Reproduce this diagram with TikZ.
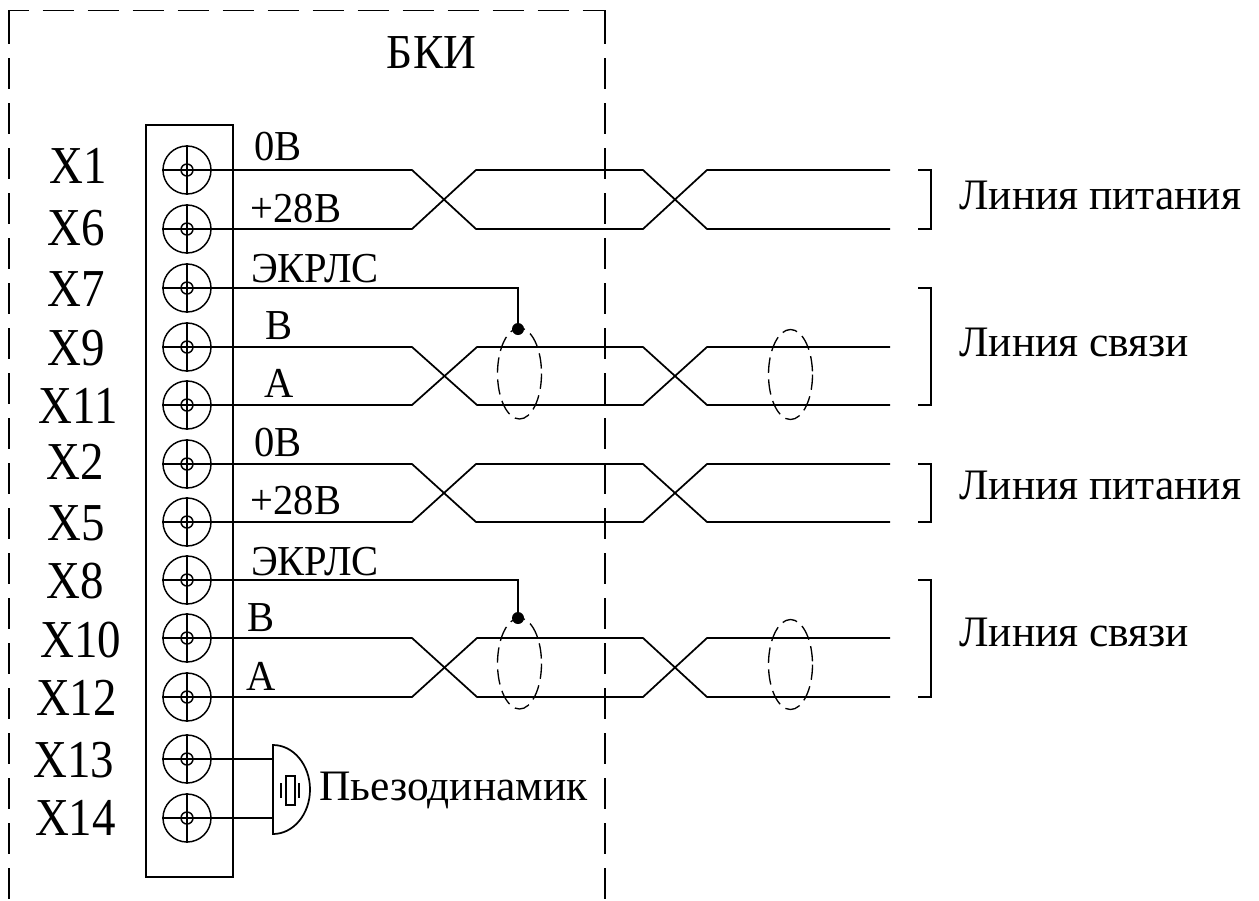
\documentclass[tikz,border=0pt]{standalone}
\usepackage{fontspec}
\setmainfont{Liberation Serif}
\newfontfamily\pinfont[FakeStretch=0.88]{Liberation Serif}
\newfontfamily\labfont[FakeStretch=0.95]{Liberation Serif}
\newfontfamily\bkifont[FakeStretch=0.93]{Liberation Serif}
\tikzset{
  wire/.style={line width=1.3pt,line join=miter,black},
  boxdash/.style={line width=1.3pt},
  shielddash/.style={line width=1.0pt,dash pattern=on 11.5pt off 5pt},
  term/.style={circle,draw,line width=1.1pt,minimum size=36pt,inner sep=0pt},
  hub/.style={circle,draw,line width=1.1pt,minimum size=9pt,inner sep=0pt},
  pin/.style={font=\pinfont\fontsize{40pt}{42pt}\selectfont,inner sep=0pt,anchor=base},
  lab/.style={font=\labfont\fontsize{32pt}{34pt}\selectfont,inner sep=0pt,anchor=base},
  title/.style={font=\fontsize{32.6pt}{36pt}\selectfont,inner sep=0pt,anchor=west},
  joint/.style={circle,fill=black,draw=none,minimum size=9pt,inner sep=0pt},
}
\newcommand{\termnode}[2]{%
  \node[term] (#1) at (187,#2) {};
  \node[hub] (#1h) at (187,#2) {};
  \draw[wire,line width=1.1pt] (#1.north) -- (#1.south);
  \draw[wire] (#1.west) -- (#1.center);
}
% name a, name b, first bend, second, unused, y of a, y of b
\newcommand{\twist}[7]{%
  \coordinate (#1e) at (890,#6);
  \coordinate (#2e) at (890,#7);
  \draw[wire] (#1.center) -- (#3,#6) -- (#4,#7) -- (643,#7) -- (707,#6) -- (#1e);
  \draw[wire] (#2.center) -- (#3,#7) -- (#4,#6) -- (643,#6) -- (707,#7) -- (#2e);
}
\newcommand{\bracket}[2]{%
  \draw[wire] (918,#1) -- (931,#1) -- (931,#2) -- (918,#2);
}
\begin{document}
\begin{tikzpicture}[x=0.75pt,y=-0.75pt]
\useasboundingbox (0,0) rectangle (1259,900);
% BKI outline
\draw[boxdash,dash pattern=on 23.25pt off 10.5pt,dash phase=6.75pt] (9,13) -- (9,10.5) -- (605,10.5) -- (605,13);
\draw[boxdash,dash pattern=on 23.25pt off 10.5pt] (9,13) -- (9,900);
\draw[boxdash,dash pattern=on 23.25pt off 10.5pt] (605,13) -- (605,900);
\node[font=\bkifont\fontsize{36.6pt}{38pt}\selectfont,inner sep=0pt,anchor=base] (bki) at (431.5,68) {БКИ};
% terminal block
\node[draw,wire,minimum width=65.25pt,minimum height=564pt,inner sep=0pt] (block) at (189.5,501) {};
\termnode{t1}{170}
\termnode{t6}{229}
\termnode{t7}{288}
\termnode{t9}{347}
\termnode{t11}{405}
\termnode{t2}{464}
\termnode{t5}{522}
\termnode{t8}{580}
\termnode{t10}{638}
\termnode{t12}{697}
\termnode{t13}{759}
\termnode{t14}{818}
% pin names
\node[pin] at (78.5,183) {X1};
\node[pin] at (76.5,245) {X6};
\node[pin] at (76,306) {X7};
\node[pin] at (76,365) {X9};
\node[pin] at (78.5,423) {X11};
\node[pin] at (75.5,479) {X2};
\node[pin] at (76,540) {X5};
\node[pin] at (75.5,598) {X8};
\node[pin] at (81,657) {X10};
\node[pin] at (76.5,715) {X12};
\node[pin] at (74,777) {X13};
\node[pin] at (75.5,835) {X14};
% twisted pairs
\twist{t1}{t6}{412}{476}{}{170}{229}
\twist{t9}{t11}{412}{477}{}{347}{405}
\twist{t2}{t5}{412}{476}{}{464}{522}
\twist{t10}{t12}{412}{477}{}{638}{697}
% shields
\draw[shielddash] (519.5,373.5) ellipse [x radius=22,y radius=45.5];
\draw[shielddash] (790.5,374.5) ellipse [x radius=22,y radius=45];
\draw[shielddash] (519.5,663.5) ellipse [x radius=22,y radius=45.5];
\draw[shielddash] (790.5,664.5) ellipse [x radius=22,y radius=45];
\node[joint] (j1) at (518,329) {};
\node[joint] (j2) at (518,618) {};
\draw[wire] (t7.center) -| (j1.center);
\draw[wire] (t8.center) -| (j2.center);
% wire labels
\node[lab] at (278,160) {0В};
\node[lab] at (296,222) {+28В};
\node[lab] at (315,282) {ЭКРЛС};
\node[lab] at (279,339) {В};
\node[lab] at (279,397) {А};
\node[lab] at (278,456) {0В};
\node[lab] at (296,514) {+28В};
\node[lab] at (315,575) {ЭКРЛС};
\node[lab] at (261,631) {В};
\node[lab] at (261,690) {А};
% brackets
\bracket{170}{229}
\bracket{288}{405}
\bracket{464}{522}
\bracket{580}{697}
\node[title] at (959,195) {Линия питания};
\node[title] at (959,342) {Линия связи};
\node[title] at (959,485) {Линия питания};
\node[title] at (959,632) {Линия связи};
% piezo speaker
\coordinate (sa) at (273,759);
\coordinate (sb) at (273,818);
\draw[wire] (t13.center) -- (sa);
\draw[wire] (t14.center) -- (sb);
\draw[wire] (273,745) arc[start angle=-90,end angle=90,x radius=37,y radius=44.5] -- cycle;
\draw[wire,line width=1.1pt] (286,776) rectangle (295,805);
\draw[wire,line width=1.1pt] (281,783) -- (281,798);
\draw[wire,line width=1.1pt] (299,783) -- (299,798);
\node[title,anchor=base west] at (319,800) {Пьезодинамик};
\end{tikzpicture}
\end{document}
